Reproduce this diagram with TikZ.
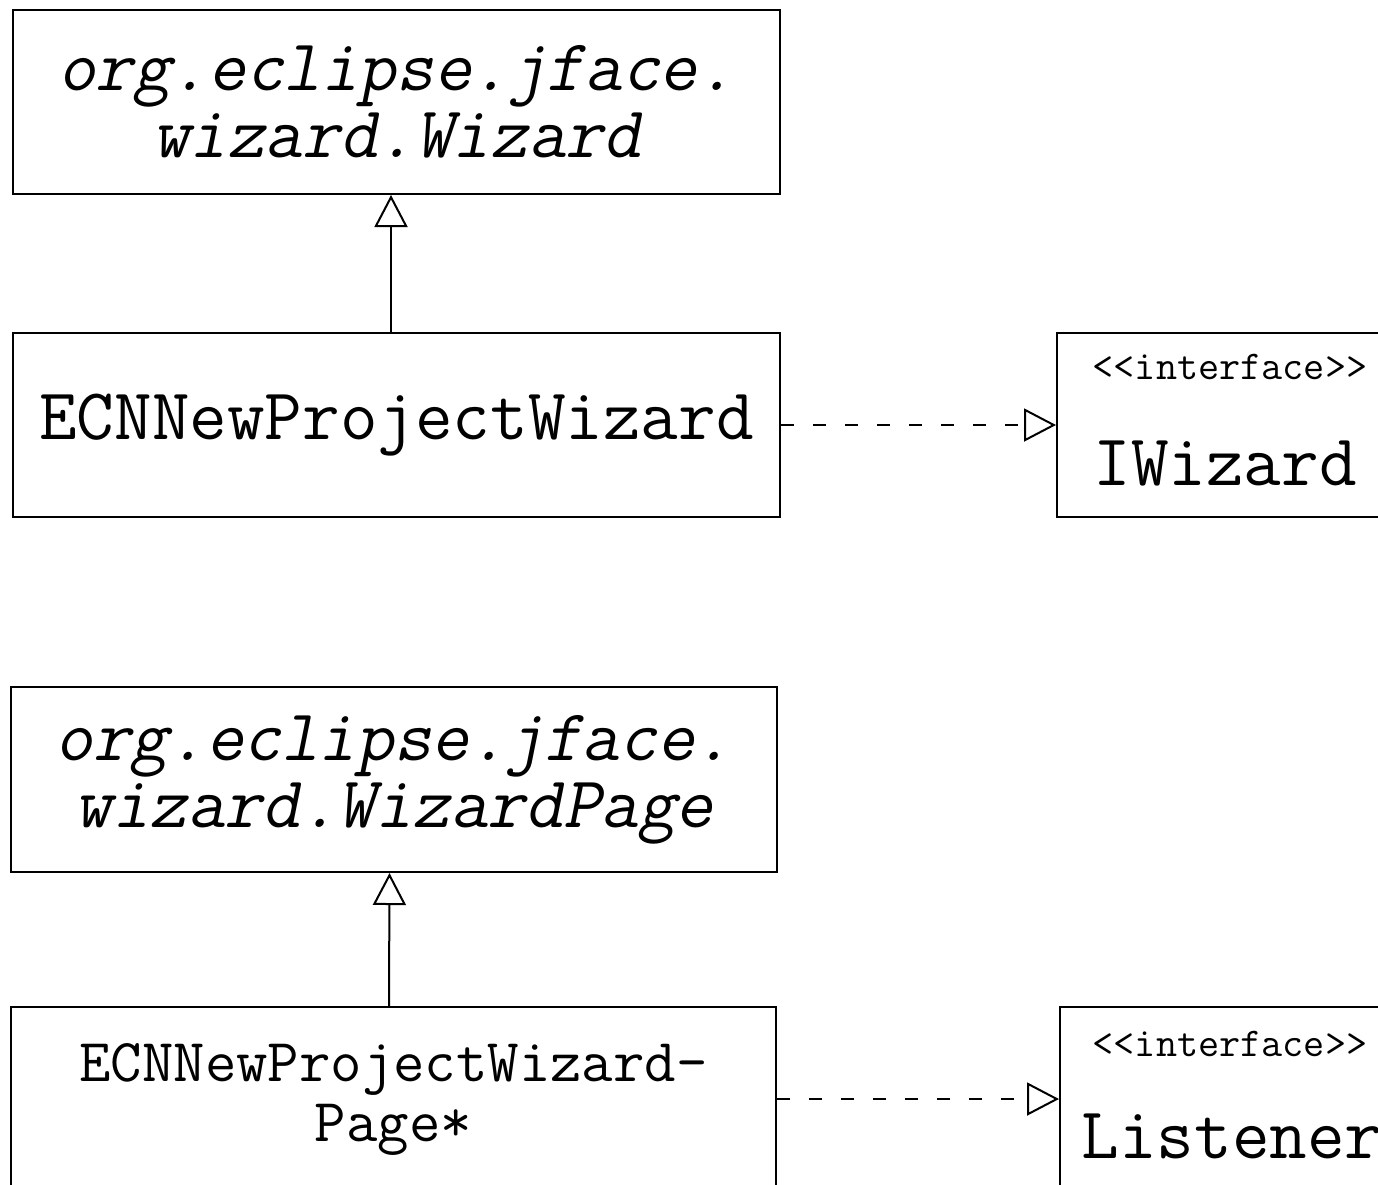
\documentclass[tikz,border=0pt]{standalone}
\usepackage{fontspec}
\setmonofont{Latin Modern Mono}
\newfontfamily\umlslant{Latin Modern Mono}[FakeSlant=0.2]
\usetikzlibrary{arrows.meta}
\tikzset{
  umlbox/.style={draw, line width=2pt, inner sep=0pt},
  umlclass/.style={umlbox, align=center, font=\ttfamily\fontsize{73}{66}\selectfont},
  umlabstract/.style={umlbox, align=center, font=\umlslant\fontsize{73}{67}\selectfont},
  umlstereo/.style={inner sep=0pt, anchor=base, font=\ttfamily\fontsize{41}{40}\selectfont},
  umlname/.style={inner sep=0pt, anchor=base, font=\ttfamily\fontsize{73}{66}\selectfont},
  umlinherit/.style={line width=2pt, -{Triangle[open, length=32pt, width=33pt]}},
  umlrealize/.style={umlinherit, dash pattern=on 13pt off 19pt},
}
\begin{document}
\begin{tikzpicture}[x=1pt, y=-1pt]
\useasboundingbox (0,0) rectangle (1378,1184);
\clip (0,0) rectangle (1378,1184);
% wizard
\node[umlabstract, minimum width=767pt, minimum height=184pt] (wiz) at (396.5,102) {org.eclipse.jface.\\wizard.Wizard};
\node[umlclass, minimum width=767pt, minimum height=184pt] (newwiz) at (396.5,425) {ECNNewProjectWizard};
\node[umlbox, minimum width=343pt, minimum height=184pt] (iwiz) at (1228.5,425) {};
\node[umlstereo] (iwizst) at (1230,379) {<<interface>>};
\node[umlname] (iwizname) at (1225,485) {IWizard};
\draw[umlinherit] ([xshift=-5.5pt]newwiz.north) -- ([xshift=-5.5pt]wiz.south);
\draw[umlrealize] (newwiz.east) -- (iwiz.west);
% wizard page
\node[umlabstract, minimum width=766pt, minimum height=185pt] (page) at (394,779.5) {org.eclipse.jface.\\wizard.WizardPage};
\node[umlbox, align=center, font=\ttfamily\fontsize{61}{60}\selectfont, minimum width=765pt, minimum height=184pt] (newpage) at (393.5,1099) {ECNNewProjectWizard-\\Page*};
\node[umlbox, minimum width=340pt, minimum height=184pt] (lis) at (1230,1099) {};
\node[umlstereo] (lisst) at (1230,1056) {<<interface>>};
\node[umlname] (lisname) at (1232,1158) {Listener};
\draw[umlinherit] ([xshift=-4.5pt]newpage.north) -- ([xshift=-4.5pt]page.south);
\draw[umlrealize] (newpage.east) -- (lis.west);
\end{tikzpicture}
\end{document}
